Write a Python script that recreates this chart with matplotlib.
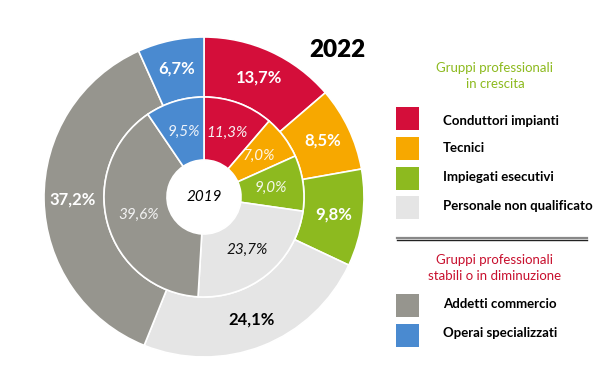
import matplotlib
matplotlib.use("Agg")
import matplotlib.pyplot as plt
from matplotlib.patches import Rectangle
import numpy as np

plt.rcParams['font.family'] = ['Lato', 'DejaVu Sans']

categories = ["Conduttori impianti", "Tecnici", "Impiegati esecutivi",
              "Personale non qualificato", "Addetti commercio", "Operai specializzati"]
values_2022 = [13.7, 8.5, 9.8, 24.1, 37.2, 6.7]
values_2019 = [11.3, 7.0, 9.0, 23.7, 39.6, 9.5]
labels_2022 = ["13,7%", "8,5%", "9,8%", "24,1%", "37,2%", "6,7%"]
labels_2019 = ["11,3%", "7,0%", "9,0%", "23,7%", "39,6%", "9,5%"]
colors = ["#D40E3A", "#F7A800", "#8DBA1F", "#E5E5E5", "#96958E", "#4A8AD0"]
outer_text_colors = ["white", "white", "white", "black", "white", "white"]
inner_text_colors = ["#F6F0F2", "#FFF6E6", "#F4F8EC", "#111111", "#F2F2F2", "#EEF3FA"]
groups_up = categories[:4]
groups_down = categories[4:]

fig = plt.figure(figsize=(6, 3.92), dpi=100)
cx, cy, R = 204, 392 - 197, 160
ax = fig.add_axes([(cx - R) / 600, (cy - R) / 392, 2 * R / 600, 2 * R / 392])

r_out, r_mid, r_hole = 1.0, 100 / 160, 37 / 160
ax.pie(values_2022, radius=r_out, colors=colors, startangle=90, counterclock=False,
       wedgeprops=dict(width=r_out - r_mid, edgecolor="white", linewidth=1.2))
ax.pie(values_2019, radius=r_mid, colors=colors, startangle=90, counterclock=False,
       wedgeprops=dict(width=r_mid - r_hole, edgecolor="white", linewidth=1.2))
ax.set_xlim(-1, 1)
ax.set_ylim(-1, 1)
ax.set_aspect("equal")
ax.axis("off")

def mid_angles(vals):
    tot = sum(vals)
    cum = np.cumsum([0] + list(vals))
    return [np.deg2rad(90 - 360 * (cum[i] + vals[i] / 2) / tot) for i in range(len(vals))]

for ang, lab, tc in zip(mid_angles(values_2022), labels_2022, outer_text_colors):
    ax.text(0.82 * np.cos(ang), 0.82 * np.sin(ang), lab, ha="center", va="center",
            fontsize=12, fontweight="bold", color=tc)
for ang, lab, tc in zip(mid_angles(values_2019), labels_2019, inner_text_colors):
    ax.text(0.425 * np.cos(ang), 0.425 * np.sin(ang), lab, ha="center", va="center",
            fontsize=11, style="italic", color=tc)
ax.text(0, 0, "2019", ha="center", va="center", fontsize=11, style="italic", color="black")

fig.text(337 / 600, 1 - 50 / 392, "2022", ha="center", va="center",
         fontsize=17.5, fontweight="heavy", color="black")

# Legend
def px(x, y):
    return x / 600, 1 - y / 392

fig.text(*px(495, 76), "Gruppi professionali\nin crescita", ha="center", va="center",
         fontsize=9.5, color="#8DBA1F", linespacing=1.3)
up_y = [107, 137, 167, 196]
text_y = [121, 148, 177, 206]
for c, yy, ty, lab in zip(colors[:4], up_y, text_y, groups_up):
    fig.patches.append(Rectangle(px(396, yy + 23), 23 / 600, 23 / 392,
                                 transform=fig.transFigure, facecolor=c, edgecolor="none"))
    fig.text(*px(443, ty), lab, ha="left", va="center", fontsize=9.5,
             fontweight="bold", color="black")

fig.add_artist(plt.Line2D([397 / 600, 587 / 600], [1 - 237.5 / 392] * 2,
                          transform=fig.transFigure, color="#888888", lw=1.6))
fig.add_artist(plt.Line2D([397 / 600, 587 / 600], [1 - 240 / 392] * 2,
                          transform=fig.transFigure, color="#222222", lw=1.0))

fig.text(*px(495, 268), "Gruppi professionali\nstabili o in diminuzione", ha="center",
         va="center", fontsize=9.5, color="#C8102E", linespacing=1.3)
down_y = [294, 324]
dtext_y = [304, 333]
for c, yy, ty, lab in zip(colors[4:], down_y, dtext_y, groups_down):
    fig.patches.append(Rectangle(px(396, yy + 23), 23 / 600, 23 / 392,
                                 transform=fig.transFigure, facecolor=c, edgecolor="none"))
    fig.text(*px(443, ty), lab, ha="left", va="center", fontsize=9.5,
             fontweight="bold", color="black")

fig.savefig("out.png", dpi=100)
